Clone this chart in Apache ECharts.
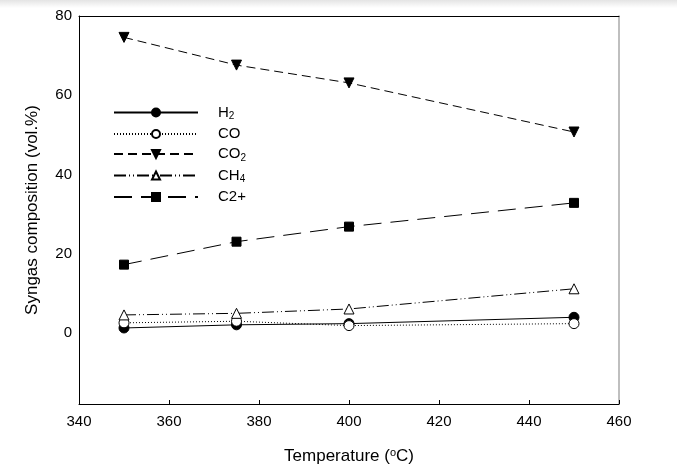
<!DOCTYPE html>
<html>
<head>
<meta charset="utf-8">
<script src="https://cdn.jsdelivr.net/npm/echarts@6/dist/echarts.min.js"></script>
<style>html,body{margin:0;padding:0;background:#fff;}#c{width:677px;height:474px;}</style>
</head>
<body>
<div id="c"></div>
<script>
const temperatures = [350, 375, 400, 450];
const h2 = [1.2, 2.0, 2.3, 3.9];
const co = [2.5, 2.9, 1.8, 2.3];
const co2 = [74.6, 67.6, 63.1, 50.7];
const ch4 = [4.5, 4.9, 6.0, 11.1];
const c2plus = [17.2, 23.0, 26.8, 32.8];
const yTicks = [0, 20, 40, 60, 80];

const pairs = v => temperatures.map((t, i) => [t, v[i]]);
const chart = echarts.init(document.getElementById('c'));
const FONT = '"Liberation Sans", Arial, sans-serif';

function mk(name, data, symbol, fill, dash, extra) {
  return Object.assign({
    name: name, type: 'line', data: pairs(data),
    symbol: symbol, symbolSize: 10,
    lineStyle: {color: '#000', width: 1, type: dash},
    itemStyle: {color: fill, borderColor: '#000', borderWidth: 1},
    emphasis: {disabled: true}, z: 3
  }, extra || {});
}

chart.setOption({
  animation: false,
  backgroundColor: '#fff',
  graphic: [{
    type: 'rect', left: 0, top: 0, shape: {width: 677, height: 8}, z: 0,
    style: {fill: new echarts.graphic.LinearGradient(0, 0, 0, 1, [
      {offset: 0, color: '#e4e4e4'}, {offset: 1, color: '#ffffff'}])}
  }],
  grid: {left: 79, right: 58, top: 16, bottom: 70},
  legend: {
    orient: 'vertical', left: 113, top: 105, padding: 0,
    itemWidth: 84, itemHeight: 10, itemGap: 5,
    data: ['H2', 'CO', 'CO2', 'CH4', 'C2+'],
    formatter: function (n) {
      if (n === 'H2') return 'H{sub|2}';
      if (n === 'CO2') return 'CO{sub|2}';
      if (n === 'CH4') return 'CH{sub|4}';
      return n;
    },
    textStyle: {
      fontFamily: FONT, fontSize: 15, color: '#000', padding: [0, 0, 0, 15],
      rich: {sub: {fontFamily: FONT, fontSize: 10, color: '#000', verticalAlign: 'bottom', padding: [8, 0, 0, 0]}}
    }
  },
  xAxis: [{
    type: 'value', min: 340, max: 460, interval: 20,
    axisLine: {onZero: false, lineStyle: {color: '#000', width: 1}},
    axisTick: {inside: true, length: 4, lineStyle: {color: '#000'}},
    splitLine: {show: false},
    axisLabel: {fontFamily: FONT, fontSize: 15, color: '#000', margin: 10},
    name: 'Temperature ({sup|o}C)', nameLocation: 'middle', nameGap: 43,
    nameTextStyle: {fontFamily: FONT, fontSize: 17, color: '#000',
      rich: {sup: {fontFamily: FONT, fontSize: 11, color: '#000', verticalAlign: 'top', padding: [0, 0, 8, 0]}}}
  }, {
    type: 'value', position: 'top', min: 340, max: 460, interval: 20,
    axisLine: {onZero: false, lineStyle: {color: '#000', width: 1}},
    axisTick: {show: false}, axisLabel: {show: false}, splitLine: {show: false}
  }],
  yAxis: [{
    type: 'value', min: -18, max: 80,
    axisLine: {onZero: false, lineStyle: {color: '#000', width: 1}},
    axisTick: {show: false},
    splitLine: {show: false},
    axisLabel: {fontFamily: FONT, fontSize: 15, color: '#000', margin: 7, customValues: yTicks},
    name: 'Syngas composition (vol.%)', nameLocation: 'middle', nameGap: 38,
    nameTextStyle: {fontFamily: FONT, fontSize: 17, color: '#000'}
  }, {
    type: 'value', position: 'right', min: -18, max: 80,
    axisLine: {onZero: false, lineStyle: {color: '#aaa', width: 1.5}},
    axisTick: {show: false}, axisLabel: {show: false}, splitLine: {show: false}
  }],
  series: [
    mk('H2', h2, 'circle', '#000', 'solid'),
    mk('CO', co, 'circle', '#fff', [1, 2]),
    mk('CO2', co2, 'triangle', '#000', [9, 5], {symbolRotate: 180}),
    mk('CH4', ch4, 'triangle', '#fff', [12, 3, 1, 3, 1, 3]),
    mk('C2+', c2plus, 'rect', '#000', [18, 9], {symbolSize: 9})
  ]
});
</script>
</body>
</html>
